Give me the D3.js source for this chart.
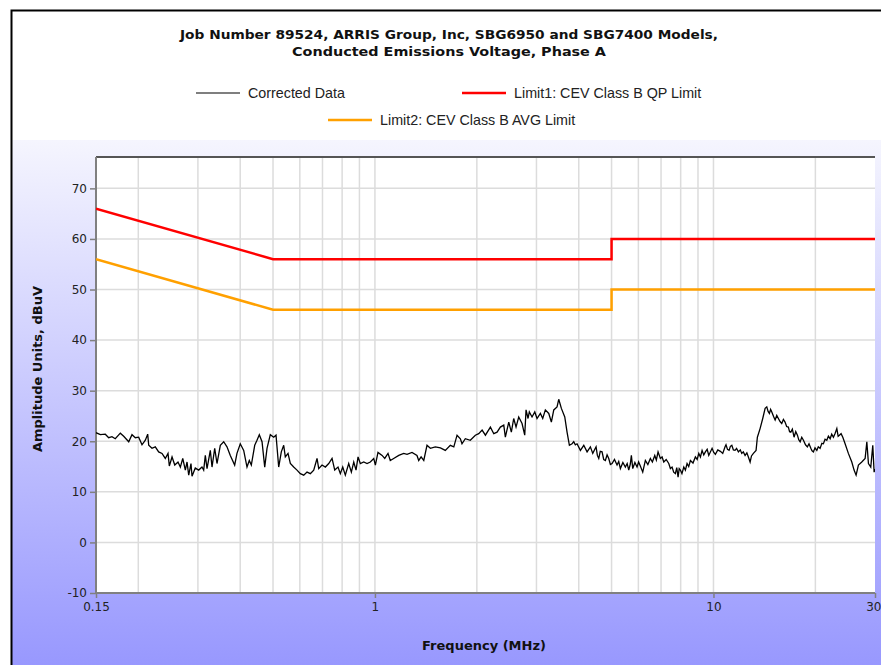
<!DOCTYPE html>
<html><head><meta charset="utf-8">
<script src="https://cdn.jsdelivr.net/npm/d3@7"></script>
<style>body{margin:0;background:#fff}svg{display:block}</style>
</head><body>
<svg id="c" width="881" height="665"></svg>
<script>
const titleLines = ["Job Number 89524, ARRIS  Group, Inc, SBG6950 and SBG7400 Models,", "Conducted Emissions Voltage, Phase A"];
const yTicks = [-10, 0, 10, 20, 30, 40, 50, 60, 70];
const xTickLabels = [0.15, 1, 10, 30];
const xGrid = [0.2,0.3,0.4,0.5,0.6,0.7,0.8,0.9,1,2,3,4,5,6,7,8,9,10,20];
const limitFreq = [0.15, 0.5, 5, 5, 30];
const limitQP = [66, 56, 56, 60, 60];
const limitAVG = [56, 46, 46, 50, 50];
const dataFreq = [0.150,0.1545,0.1598,0.1635,0.1672,0.1710,0.1770,0.1811,0.1874,0.1916,0.1960,0.2005,0.2051,0.2098,0.2132,0.2147,0.2195,0.2245,0.2297,0.2350,0.2403,0.2448,0.2470,0.2516,0.2563,0.2620,0.2662,0.2706,0.2754,0.2786,0.2818,0.2862,0.2882,0.2947,0.3016,0.3084,0.3120,0.3155,0.3192,0.3264,0.3302,0.3363,0.3416,0.3494,0.3575,0.3656,0.3739,0.3852,0.3913,0.4002,0.4096,0.4189,0.4255,0.4314,0.4415,0.4484,
0.4555,0.4640,0.4726,0.4800,0.4909,0.5023,0.5103,0.5197,0.5290,0.5377,0.5436,0.5537,0.5625,0.5755,0.5886,0.6020,0.6162,0.6301,0.6445,0.6595,0.6745,0.6823,0.6978,0.7138,0.7304,0.7470,0.7608,0.7780,0.7903,0.8033,0.8176,0.8367,0.8518,0.8659,0.8794,0.8915,0.9055,0.9267,0.9477,0.9692,0.9919,1.003,1.021,1.050,1.069,1.093,1.110,1.136,1.176,1.216,1.244,1.287,1.331,
1.347,1.369,1.394,1.425,1.458,1.508,1.561,1.614,1.670,1.710,1.748,1.788,1.808,1.849,1.913,1.980,2.026,2.073,2.120,2.193,2.244,2.295,2.347,2.402,2.428,2.485,2.529,2.570,2.611,2.659,2.720,2.770,2.795,2.833,2.858,2.911,2.966,3.012,3.081,3.131,3.187,3.262,3.320,3.375,3.451,3.491,3.554,3.637,3.694,3.753,3.822,3.866,3.908,
3.954,4.045,4.139,4.233,4.329,4.400,4.500,4.54,4.583,4.63,4.687,4.74,4.794,4.85,4.905,4.96,5.017,5.10,5.190,5.25,5.309,5.40,5.492,5.56,5.620,5.68,5.721,5.775,5.86,5.946,6.01,6.081,6.181,6.292,6.40,6.510,6.60,6.708,6.78,6.860,6.968,7.05,7.132,7.25,7.378,7.46,7.546,7.63,7.717,7.79,7.860,7.92,7.984,8.07,8.172,8.26,8.356,8.45,8.547,8.70,8.842,8.95,9.050,9.15,9.255,9.36,9.465,9.58,9.685,9.906,10.02,10.13,10.30,10.48,10.65,
10.82,10.89,11.00,11.12,11.22,11.33,11.45,11.58,11.70,11.85,12.00,12.12,12.25,12.40,12.55,12.68,12.83,12.95,13.12,13.36,13.48,13.73,13.98,14.21,14.37,14.50,14.63,14.75,14.87,15.05,15.21,15.38,15.55,15.73,15.91,16.09,16.27,16.45,16.64,16.78,16.92,17.10,17.30,17.50,17.70,17.86,18.03,18.23,18.44,18.70,18.94,19.15,19.39,19.55,19.73,19.95,20.20,20.40,20.65,20.90,21.12,21.36,21.61,21.85,22.11,22.35,22.61,22.88,23.14,23.35,23.55,23.82,24.10,24.48,25.03,25.62,26.02,26.38,26.80,27.42,28.05,28.38,28.69,29.15,29.55,29.82,30.0];
const dataAmp = [21.7,21.3,21.4,20.7,20.9,20.5,21.6,21.0,19.9,21.3,20.7,20.8,19.3,20.2,21.4,19.2,18.6,18.9,17.9,17.6,16.6,17.6,15.1,16.9,15.3,15.9,14.9,16.6,14.3,15.9,13.3,15.6,13.1,14.7,14.3,14.9,14.3,17.2,14.6,18.2,14.9,18.6,15.6,19.2,19.9,18.9,17.2,15.3,17.6,19.5,18.2,14.9,16.2,15.3,19.2,20.2,
21.3,19.9,14.9,18.6,21.3,20.8,21.2,14.9,17.9,19.2,16.9,17.6,15.6,14.9,14.3,13.6,13.3,13.9,13.6,14.3,16.6,14.6,15.3,14.9,15.6,16.6,14.3,14.9,13.6,14.9,13.3,15.6,13.9,15.9,14.3,16.9,15.6,15.9,15.6,15.9,16.6,15.3,17.8,17.2,16.6,17.6,16.2,16.6,17.2,17.6,17.4,17.8,17.2,
16.2,16.9,16.2,19.2,18.6,18.9,18.7,18.2,19.2,18.9,21.2,20.5,19.5,20.5,20.2,21.2,21.5,22.2,21.2,22.8,21.5,21.8,22.8,23.2,20.8,23.8,21.8,24.5,22.8,24.8,23.5,21.2,26.2,24.5,25.8,24.8,25.8,24.5,25.5,24.5,26.2,25.5,23.8,26.2,26.8,28.3,26.5,24.8,21.8,19.2,19.5,19.9,19.3,
19.5,18.2,19.2,17.9,18.9,17.6,18.9,17.2,16.6,18.0,17.9,16.4,16.2,17.3,16.6,15.4,15.6,16.4,15.3,16.0,14.6,15.8,14.9,15.6,14.3,15.5,17.2,14.6,15.8,14.9,15.9,15.1,13.9,16.2,15.4,16.6,15.9,17.2,16.3,17.9,16.6,16.9,15.9,16.4,15.6,14.6,14.9,13.9,13.6,14.8,12.9,14.6,14.3,13.6,14.9,14.3,15.6,15.0,16.2,15.7,16.9,16.4,17.6,16.9,18.2,17.3,17.9,18.4,17.2,18.6,17.8,17.4,18.3,18.0,17.6,
18.9,19.3,18.4,18.2,19.0,19.2,18.3,18.2,18.6,17.9,18.3,17.6,17.9,17.2,17.7,16.9,15.9,17.1,17.6,18.2,20.8,22.5,24.5,26.5,26.8,25.9,25.5,26.3,25.8,24.9,24.2,25.1,24.5,23.9,23.5,24.3,23.8,22.9,22.8,21.9,21.8,22.4,20.8,21.9,21.2,20.3,19.9,20.8,20.2,19.3,18.9,19.5,18.6,18.1,17.9,18.7,18.2,18.9,18.6,19.6,19.5,20.4,20.2,21.0,20.5,21.4,20.8,21.6,22.5,21.0,21.2,21.5,20.8,19.5,17.6,15.9,14.3,13.3,15.3,15.9,16.6,19.9,15.6,14.9,19.2,13.9,14.5];

const svg = d3.select("#c");
const W = 881, H = 665;
const m = {left: 96, right: 875, top: 157, bottom: 593};
const tahoma = "Tahoma, 'DejaVu Sans', sans-serif";

// frame + background
const defs = svg.append("defs");
const grad = defs.append("linearGradient").attr("id","bg").attr("x1",0).attr("y1",0).attr("x2",0).attr("y2",1);
grad.append("stop").attr("offset","0%").attr("stop-color","#f5f5fe");
grad.append("stop").attr("offset","100%").attr("stop-color","#9898fe");
svg.append("rect").attr("x",12).attr("y",140).attr("width",W-12).attr("height",H-140).attr("fill","url(#bg)");
svg.append("path").attr("d",`M11.5,${H} V10.5 H${W}`).attr("fill","none").attr("stroke","#000").attr("stroke-width",2);

const x = d3.scaleLog().domain([0.15, 30]).range([m.left, m.right]);
const y = d3.scaleLinear().domain([-10, 76.2]).range([m.bottom, m.top]);

const g = svg.append("g");
g.append("rect").attr("x",m.left).attr("y",m.top).attr("width",m.right-m.left).attr("height",m.bottom-m.top).attr("fill","#fff");

// grid
g.selectAll(".vg").data(xGrid).join("line")
  .attr("x1",d=>x(d)).attr("x2",d=>x(d)).attr("y1",m.top).attr("y2",m.bottom)
  .attr("stroke","#dcdcdc").attr("stroke-width",1.5);
g.selectAll(".hg").data(yTicks.filter(d=>d>-10)).join("line")
  .attr("x1",m.left).attr("x2",m.right).attr("y1",d=>y(d)).attr("y2",d=>y(d))
  .attr("stroke","#dcdcdc").attr("stroke-width",1.5);

// top border
g.append("line").attr("x1",m.left).attr("x2",m.right).attr("y1",m.top).attr("y2",m.top).attr("stroke","#555").attr("stroke-width",2);

// axes
const yAxis = d3.axisLeft(y).tickValues(yTicks).tickSize(6).tickPadding(3).tickFormat(d=>String(d));
const ya = svg.append("g").attr("transform",`translate(${m.left},0)`).call(yAxis);
const xAxis = d3.axisBottom(x).tickValues(xTickLabels).tickSize(5).tickPadding(4).tickFormat(d=>String(d));
const xa = svg.append("g").attr("transform",`translate(0,${m.bottom})`).call(xAxis);
[ya, xa].forEach(a=>{
  a.select(".domain").attr("stroke","#808080").attr("stroke-width",2);
  a.selectAll(".tick line").attr("stroke","#808080").attr("stroke-width",1.5);
  a.selectAll(".tick text").attr("fill","#222").style("font-family",tahoma).style("font-size","12px");
});
ya.select(".domain").attr("d",`M0,${m.top}V${m.bottom}`);
xa.select(".domain").attr("d",`M${m.left},0H${m.right}`);
xa.selectAll(".tick text").filter(d=>d===30).attr("text-anchor","end").attr("x",6);

// lines
const line = d3.line().x(d=>x(d[0])).y(d=>y(d[1]));
defs.append("clipPath").attr("id","pc").append("rect").attr("x",m.left).attr("y",m.top).attr("width",m.right-m.left).attr("height",m.bottom-m.top);
const pl = svg.append("g").attr("clip-path","url(#pc)");
pl.append("path").datum(dataFreq.map((f,i)=>[f,dataAmp[i]])).attr("d",line).attr("fill","none").attr("stroke","#000").attr("stroke-width",1.3);
pl.append("path").datum(limitFreq.map((f,i)=>[f,limitQP[i]])).attr("d",line).attr("fill","none").attr("stroke","#ff0000").attr("stroke-width",2.5);
pl.append("path").datum(limitFreq.map((f,i)=>[f,limitAVG[i]])).attr("d",line).attr("fill","none").attr("stroke","#ffa000").attr("stroke-width",2.5);

// titles
const titleWidths = [538, 314];
const tt = svg.append("text").attr("text-anchor","middle").style("font-family",tahoma).style("font-weight","bold").style("font-size","13px").attr("fill","#111");
tt.selectAll("tspan").data(titleLines).join("tspan").attr("x",449).attr("y",(d,i)=>39+i*17)
  .attr("textLength",(d,i)=>titleWidths[i]).attr("lengthAdjust","spacingAndGlyphs").text(d=>d);

svg.append("text").attr("x",484).attr("y",650).attr("text-anchor","middle")
  .style("font-family",tahoma).style("font-weight","bold").style("font-size","13px").attr("fill","#111")
  .text("Frequency (MHz)");
svg.append("text").attr("transform","translate(42,369) rotate(-90)").attr("text-anchor","middle")
  .style("font-family",tahoma).style("font-weight","bold").style("font-size","13px").attr("fill","#111")
  .text("Amplitude Units, dBuV");

// legend
const legendNames = ["Corrected Data","Limit1: CEV Class B QP Limit","Limit2: CEV Class B AVG Limit"];
const legendColors = ["#000","#ff0000","#ffa000"];
const legendPos = [[196,93],[462,93],[328,120]];
const lg = svg.append("g");
legendNames.forEach((n,i)=>{
  const [lx,ly] = legendPos[i];
  lg.append("line").attr("x1",lx).attr("x2",lx+44).attr("y1",ly).attr("y2",ly).attr("stroke",legendColors[i]).attr("stroke-width",i===0?1.2:2.5);
  lg.append("text").attr("x",lx+52).attr("y",ly+5).style("font-family","'Liberation Sans', Arial, sans-serif").style("font-size","14.3px").attr("fill","#222").text(n);
});
</script>
</body></html>
